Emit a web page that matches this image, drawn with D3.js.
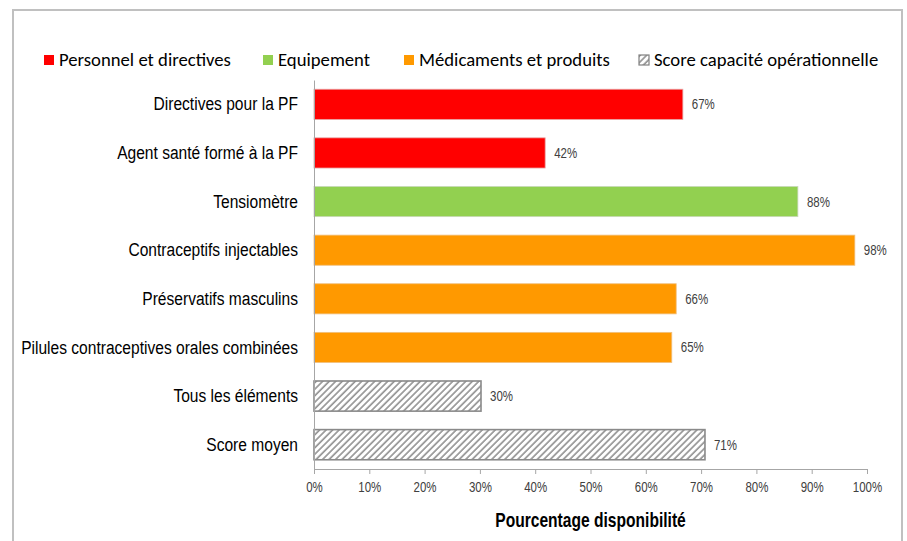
<!DOCTYPE html>
<html>
<head>
<meta charset="utf-8">
<script src="https://cdn.jsdelivr.net/npm/d3@7"></script>
<style>
  body { margin: 0; background: #fff; }
  .narrow { font-family: "Liberation Sans", Arial, sans-serif; }
  .legend text { font-family: Carlito, Calibri, Lato, sans-serif; }
</style>
</head>
<body>
<div id="chart"></div>
<script>
// chart data
var categories = ["Directives pour la PF", "Agent santé formé à la PF", "Tensiomètre",
  "Contraceptifs injectables", "Préservatifs masculins", "Pilules contraceptives orales combinées",
  "Tous les éléments", "Score moyen"];
var values = [0.667, 0.418, 0.875, 0.978, 0.655, 0.647, 0.302, 0.707];
var groups = ["perso", "perso", "equip", "medic", "medic", "medic", "score", "score"];

var legendKeys = ["perso", "equip", "medic", "score"];
var legendLabels = ["Personnel et directives", "Equipement", "Médicaments et produits", "Score capacité opérationnelle"];
var tickValues = [0, 0.1, 0.2, 0.3, 0.4, 0.5, 0.6, 0.7, 0.8, 0.9, 1];
var axisTitle = "Pourcentage disponibilité";

var W = 907, H = 541;
var plot = {left: 314, right: 867, top: 80, bottom: 469};
var squeeze = 0.82; // no Arial Narrow here, so squeeze Liberation Sans

var svg = d3.select("#chart").append("svg")
  .attr("width", W)
  .attr("height", H);

//hatch pattern for the score bars
var defs = svg.append("defs");
defs.append("pattern")
  .attr("id", "hatch")
  .attr("patternUnits", "userSpaceOnUse")
  .attr("width", 4.6)
  .attr("height", 4.6)
  .attr("patternTransform", "rotate(45)")
  .call(function(p) {
    p.append("rect").attr("width", 4.6).attr("height", 4.6).attr("fill", "#fff");
    p.append("line").attr("x1", 1).attr("x2", 1).attr("y1", 0).attr("y2", 4.6)
      .attr("stroke", "#808080").attr("stroke-width", 1.4);
  });

var fills = {perso: "#FF0000", equip: "#92D050", medic: "#FF9900", score: "url(#hatch)"};
var strokes = {perso: "#E8A0A0", equip: "#C8D8B8", medic: "#F0C080", score: "#8A8A8A"};

//outer frame
svg.append("rect")
  .attr("x", 13)
  .attr("y", 10)
  .attr("width", 889)
  .attr("height", 560)
  .attr("fill", "none")
  .attr("stroke", "#C0C0C0")
  .attr("stroke-width", 2);

//scales
var x = d3.scaleLinear().domain([0, 1]).range([plot.left, plot.right]);
var y = d3.scaleBand().domain(categories).range([plot.top, plot.bottom])
  .paddingInner(0.38).paddingOuter(0.19);

//bars
svg.selectAll("rect.bar")
  .data(categories)
  .enter()
  .append("rect")
  .attr("class", "bar")
  .attr("x", x(0))
  .attr("y", function(d) { return y(d); })
  .attr("width", function(d, i) { return x(values[i]) - x(0); })
  .attr("height", y.bandwidth())
  .attr("fill", function(d, i) { return fills[groups[i]]; })
  .attr("stroke", function(d, i) { return strokes[groups[i]]; })
  .attr("stroke-width", function(d, i) { return groups[i] === "score" ? 1.6 : 0.8; });

//value labels
var fmt = d3.format(".0%");
svg.selectAll("text.val")
  .data(categories)
  .enter()
  .append("text")
  .attr("class", "val narrow")
  .attr("transform", function(d, i) {
    return "translate(" + (x(values[i]) + 9) + "," + (y(d) + y.bandwidth() / 2) + ") scale(" + squeeze + ",1)";
  })
  .attr("dy", "0.36em")
  .style("font-size", "14px")
  .style("fill", "#404040")
  .text(function(d, i) { return fmt(values[i]); });

//x axis
var xAxis = svg.append("g")
  .attr("transform", "translate(0," + plot.bottom + ")")
  .call(d3.axisBottom(x).tickValues(tickValues).tickFormat(fmt).tickSizeInner(5).tickSizeOuter(0));
xAxis.select(".domain").attr("stroke", "#A6A6A6");
xAxis.selectAll(".tick line").attr("stroke", "#A6A6A6");
xAxis.selectAll(".tick text")
  .attr("class", "narrow")
  .attr("y", 13)
  .attr("transform", "scale(" + squeeze + ",1)")
  .style("font-size", "14px")
  .style("fill", "#404040");

//y axis
var yAxis = svg.append("g")
  .attr("transform", "translate(" + plot.left + ",0)")
  .call(d3.axisLeft(y).tickSize(0).tickPadding(16));
yAxis.select(".domain").attr("stroke", "#A6A6A6");
yAxis.selectAll(".tick text")
  .attr("class", "narrow")
  .attr("x", -16 / squeeze)
  .attr("transform", "scale(" + squeeze + ",1)")
  .style("font-size", "19px")
  .style("fill", "#000");

//axis title
svg.append("text")
  .attr("class", "narrow")
  .attr("transform", "translate(" + ((plot.left + plot.right) / 2) + ",527) scale(0.8,1)")
  .attr("text-anchor", "middle")
  .style("font-size", "19.5px")
  .style("font-weight", "bold")
  .text(axisTitle);

//legend
var legendX = [44, 263, 404, 639];
var legend = svg.append("g").attr("class", "legend");
var item = legend.selectAll("g")
  .data(legendKeys)
  .enter()
  .append("g")
  .attr("transform", function(d, i) { return "translate(" + legendX[i] + ",55)"; });
item.append("rect")
  .attr("width", 10)
  .attr("height", 10)
  .attr("fill", function(d) { return d === "score" ? "url(#hatch)" : fills[d]; })
  .attr("stroke", function(d) { return d === "score" ? "#808080" : "none"; })
  .attr("stroke-width", 1.2);
item.append("text")
  .attr("x", 15)
  .attr("y", 11)
  .style("font-size", "18.7px")
  .style("fill", "#000")
  .text(function(d, i) { return legendLabels[i]; });
</script>
</body>
</html>
